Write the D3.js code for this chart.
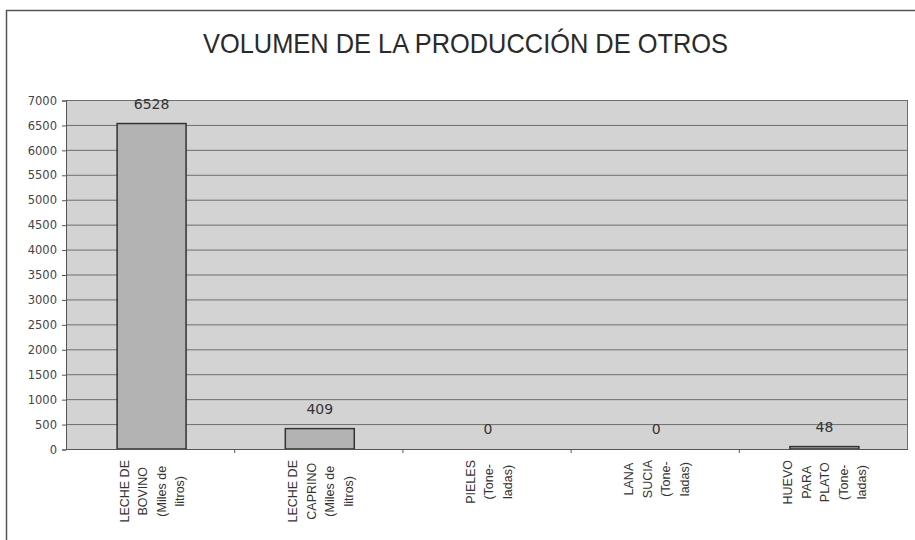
<!DOCTYPE html>
<html>
<head>
<meta charset="utf-8">
<script src="https://cdn.jsdelivr.net/npm/d3@7"></script>
<style>
  html, body { margin: 0; padding: 0; background: #ffffff; }
  svg { display: block; }
</style>
</head>
<body>
<svg id="chart" width="915" height="540"></svg>
<script>
// Production volumes by product (units noted in each label)
const categories = [
  ["LECHE DE", "BOVINO", "(Miles de", "litros)"],
  ["LECHE DE", "CAPRINO", "(Miles de", "litros)"],
  ["PIELES", "(Tone-", "ladas)"],
  ["LANA", "SUCIA", "(Tone-", "ladas)"],
  ["HUEVO", "PARA", "PLATO", "(Tone-", "ladas)"]
];
const values = [6528, 409, 0, 0, 48];
const yTicks = [0, 500, 1000, 1500, 2000, 2500, 3000, 3500, 4000, 4500, 5000, 5500, 6000, 6500, 7000];
const title = "VOLUMEN DE LA PRODUCCIÓN DE OTROS";

const svg = d3.select("#chart");
const W = 915, H = 540;
const plot = { left: 66, right: 907, top: 100, bottom: 449 };

// outer frame
svg.append("path")
  .attr("d", `M6.5,${H} L6.5,10.5 L${W},10.5`)
  .attr("fill", "none")
  .attr("stroke", "#555")
  .attr("stroke-width", 1.5);

// title
svg.append("text")
  .attr("x", 203)
  .attr("y", 53)
  .attr("textLength", 525)
  .attr("lengthAdjust", "spacingAndGlyphs")
  .attr("font-family", "'Liberation Sans', Arial, sans-serif")
  .attr("font-size", 28)
  .attr("fill", "#2a2a2a")
  .text(title);

const x = d3.scaleBand()
  .domain(d3.range(categories.length))
  .range([plot.left, plot.right])
  .padding(0);

const y = d3.scaleLinear()
  .domain([0, 7000])
  .range([plot.bottom, plot.top]);

// plot background
svg.append("rect")
  .attr("x", plot.left)
  .attr("y", plot.top)
  .attr("width", plot.right - plot.left)
  .attr("height", plot.bottom - plot.top)
  .attr("fill", "#d3d3d3");

// horizontal gridlines
svg.append("g")
  .selectAll("line")
  .data(yTicks.filter(d => d > 0))
  .join("line")
  .attr("x1", plot.left)
  .attr("x2", plot.right)
  .attr("y1", d => y(d) + 0.5)
  .attr("y2", d => y(d) + 0.5)
  .attr("stroke", "#6e6e6e")
  .attr("stroke-width", 1);

// right border of plot area
svg.append("line")
  .attr("x1", plot.right + 0.5).attr("x2", plot.right + 0.5)
  .attr("y1", plot.top).attr("y2", plot.bottom)
  .attr("stroke", "#6e6e6e");

// y axis
const yAxis = d3.axisLeft(y)
  .tickValues(yTicks)
  .tickSize(4)
  .tickPadding(5)
  .tickFormat(d3.format("d"));
const gy = svg.append("g")
  .attr("transform", `translate(${plot.left},0.5)`)
  .call(yAxis);
gy.select(".domain").attr("stroke", "#555");
gy.selectAll(".tick line").attr("stroke", "#555");
gy.selectAll(".tick text")
  .attr("font-family", "'DejaVu Sans', Verdana, sans-serif")
  .attr("font-size", 11.5)
  .attr("fill", "#444");

// bars
const barW = x.bandwidth() * 0.41;
svg.append("g")
  .selectAll("rect")
  .data(values)
  .join("rect")
  .attr("x", (d, i) => x(i) + x.bandwidth() / 2 - barW / 2 + 1.5)
  .attr("y", d => y(d))
  .attr("width", barW)
  .attr("height", d => Math.max(0, y(0) - y(d)))
  .attr("fill", "#b3b3b3")
  .attr("stroke", "#333")
  .attr("stroke-width", 1.5);

// x axis line and category ticks
svg.append("line")
  .attr("x1", plot.left).attr("x2", plot.right + 1)
  .attr("y1", plot.bottom + 0.5).attr("y2", plot.bottom + 0.5)
  .attr("stroke", "#555");
svg.append("g")
  .selectAll("line")
  .data(d3.range(1, categories.length))
  .join("line")
  .attr("x1", i => x(i) + 0.5).attr("x2", i => x(i) + 0.5)
  .attr("y1", plot.bottom).attr("y2", plot.bottom + 4)
  .attr("stroke", "#555");

// value labels
svg.append("g")
  .selectAll("text")
  .data(values)
  .join("text")
  .attr("x", (d, i) => x(i) + x.bandwidth() / 2 + 1.5)
  .attr("y", d => y(d) - 15)
  .attr("text-anchor", "middle")
  .attr("font-family", "'DejaVu Sans', Verdana, sans-serif")
  .attr("font-size", 14)
  .attr("fill", "#333")
  .text(d => d);

// rotated, wrapped category labels
const lineGap = 18.5;
categories.forEach((lines, i) => {
  const g = svg.append("g")
    .attr("transform", `translate(${x(i) + x.bandwidth() / 2 + 2},${plot.bottom + 11}) rotate(-90)`);
  const texts = g.selectAll("text")
    .data(lines)
    .join("text")
    .attr("y", (d, j) => (j - (lines.length - 1) / 2) * lineGap + 4.5)
    .attr("text-anchor", "middle")
    .attr("font-family", "'Liberation Sans', Arial, sans-serif")
    .attr("font-size", 12.5)
    .attr("fill", "#333")
    .text(d => d);
  let maxW = 0;
  texts.each(function () { maxW = Math.max(maxW, this.getComputedTextLength()); });
  texts.attr("x", -maxW / 2);
});
</script>
</body>
</html>
